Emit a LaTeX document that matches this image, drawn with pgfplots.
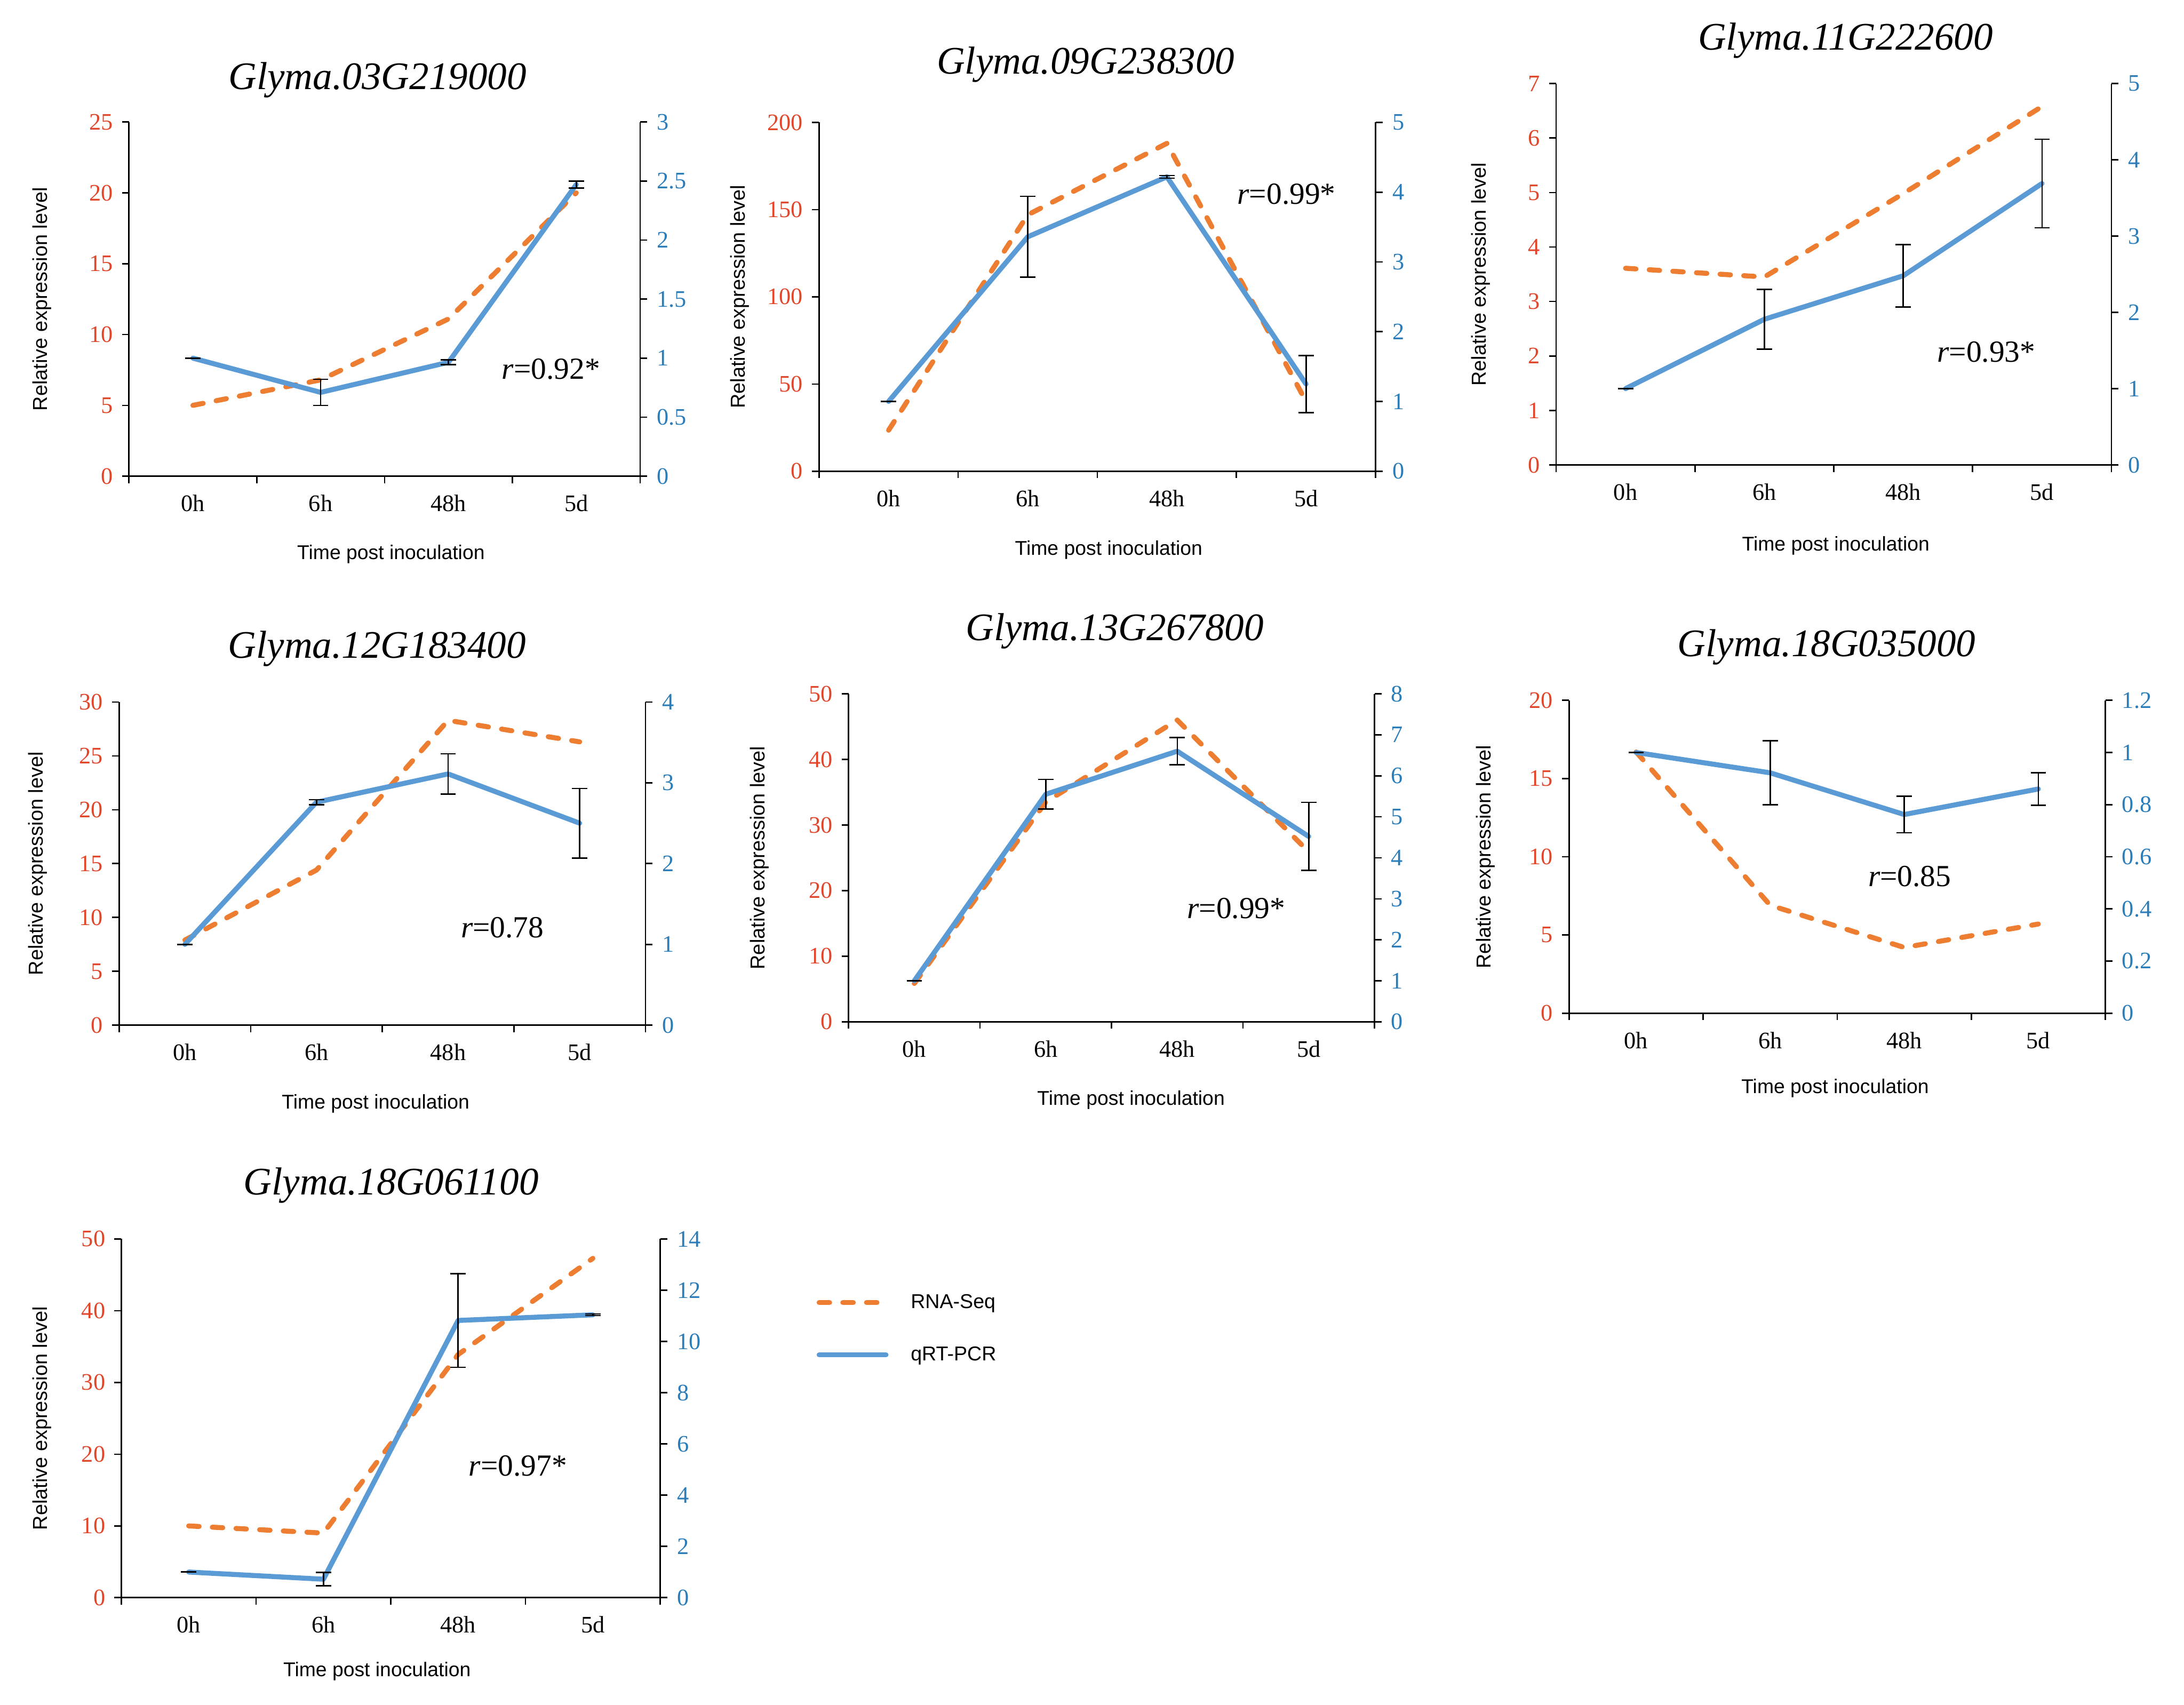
\documentclass[border=0pt]{standalone}
\usepackage{fontspec}
\setmainfont{Liberation Serif}
\newfontfamily\arial{Liberation Sans}
\usepackage{pgfplots}
\pgfplotsset{compat=1.18}
\definecolor{orangec}{HTML}{ED7D31}
\definecolor{bluec}{HTML}{5B9BD5}
\definecolor{leftc}{HTML}{E0462A}
\definecolor{rightc}{HTML}{2A7DB8}
\pgfplotsset{
  common/.style={scale only axis, xmin=0, xmax=4, ymin=0, clip=false,
    axis line style={black, line width=1pt},
    every tick/.style={black, line width=1pt},
    tick align=outside, major tick length=5pt, minor tick length=5pt,
    /pgf/number format/assume math mode=true,
    ticklabel style={font=\fontsize{17}{17}\selectfont}},
  leftax/.style={common, axis x line*=bottom, axis y line*=left,
    xtick={0.5,1.5,2.5,3.5}, xticklabels={0h,6h,48h,5d},
    minor xtick={0,1,2,3,4}, major x tick style={draw=none},
    xticklabel style={font=\fontsize{17}{17}\selectfont, yshift=-5pt},
    yticklabel style={text=leftc, xshift=-3pt}},
  rightax/.style={common, axis x line=none, axis y line*=right, xtick=\empty,
    yticklabel style={text=rightc, xshift=3.5pt}},
  rna/.style={color=orangec, line width=3.6pt, dash pattern=on 7.5pt off 9.5pt, line cap=round, line join=round, mark=none},
  qrt/.style={color=bluec, line width=3.6pt, line cap=round, line join=round, mark=none},
  errb/.style={error bars/.cd, y dir=both, y explicit,
    error bar style={line width=1pt, black, solid},
    error mark options={black, line width=1pt, mark size=5.5pt, solid, rotate=90}},
}
\newcommand\ttl[3]{\node[font=\fontsize{28}{28}\selectfont\itshape] at (#1pt,#2pt) {#3};}
\newcommand\xlab[2]{\node[font=\arial\fontsize{14.3}{14.3}\selectfont] at (#1pt,#2pt) {Time post inoculation};}
\newcommand\ylab[2]{\node[font=\arial\fontsize{14.5}{14.5}\selectfont, rotate=90] at (#1pt,#2pt) {Relative expression level};}
\newcommand\rr[3]{\node[font=\fontsize{22}{22}\selectfont] at (#1pt,#2pt) {{\itshape r}=#3};}
\begin{document}
\begin{tikzpicture}
\useasboundingbox (0,0) rectangle (1568pt,1223.7pt);
% ---------- Panel 1
\begin{axis}[leftax, at={(92.6pt,881.8pt)}, width=367pt, height=254.3pt, ymax=25, ytick={0,5,10,15,20,25}]
\addplot[rna] coordinates {(0.5,5.0) (1.5,6.8) (2.5,11.1) (3.5,20.0)};
\end{axis}
\begin{axis}[rightax, at={(92.6pt,881.8pt)}, width=367pt, height=254.3pt, ymax=3, ytick={0,0.5,1,1.5,2,2.5,3}]
\addplot[qrt, errb] coordinates {(0.5,1.0) +- (0,0) (1.5,0.71) +- (0,0.11) (2.5,0.965) +- (0,0.02) (3.5,2.47) +- (0,0.03)};
\end{axis}
\ttl{271}{1166.1}{Glyma.03G219000}
\xlab{280.7}{825.7}
\ylab{30.3}{1008.95}
\rr{395.6}{958.7}{0.92*}
% ---------- Panel 2
\begin{axis}[leftax, at={(588pt,885.4pt)}, width=399.6pt, height=250.4pt, ymax=200, ytick={0,50,100,150,200}]
\addplot[rna] coordinates {(0.5,23.5) (1.5,147) (2.5,188) (3.5,40)};
\end{axis}
\begin{axis}[rightax, at={(588pt,885.4pt)}, width=399.6pt, height=250.4pt, ymax=5, ytick={0,1,2,3,4,5}]
\addplot[qrt, errb] coordinates {(0.5,1.0) +- (0,0) (1.5,3.36) +- (0,0.58) (2.5,4.22) +- (0,0.02) (3.5,1.25) +- (0,0.41)};
\end{axis}
\ttl{779.5}{1177.5}{Glyma.09G238300}
\xlab{796}{828.9}
\ylab{531}{1010.6}
\rr{923.6}{1084.3}{0.99*}
% ---------- Panel 3
\begin{axis}[leftax, at={(1117.2pt,889.9pt)}, width=398.7pt, height=273.8pt, ymax=7, ytick={0,1,2,3,4,5,6,7}]
\addplot[rna] coordinates {(0.5,3.61) (1.5,3.45) (2.5,4.98) (3.5,6.58)};
\end{axis}
\begin{axis}[rightax, at={(1117.2pt,889.9pt)}, width=398.7pt, height=273.8pt, ymax=5, ytick={0,1,2,3,4,5}]
\addplot[qrt, errb] coordinates {(0.5,1.0) +- (0,0) (1.5,1.91) +- (0,0.39) (2.5,2.48) +- (0,0.41) (3.5,3.69) +- (0,0.58)};
\end{axis}
\ttl{1325}{1194.6}{Glyma.11G222600}
\xlab{1318}{831.8}
\ylab{1063}{1026.8}
\rr{1426}{970.8}{0.93*}
% ---------- Panel 4
\begin{axis}[leftax, at={(85.5pt,487.7pt)}, width=377.9pt, height=232pt, ymax=30, ytick={0,5,10,15,20,25,30}]
\addplot[rna] coordinates {(0.5,7.9) (1.5,14.4) (2.5,28.3) (3.5,26.3)};
\end{axis}
\begin{axis}[rightax, at={(85.5pt,487.7pt)}, width=377.9pt, height=232pt, ymax=4, ytick={0,1,2,3,4}]
\addplot[qrt, errb] coordinates {(0.5,1.0) +- (0,0) (1.5,2.76) +- (0,0.03) (2.5,3.11) +- (0,0.25) (3.5,2.5) +- (0,0.43)};
\end{axis}
\ttl{270.7}{757.8}{Glyma.12G183400}
\xlab{269.7}{431.3}
\ylab{27.1}{603.7}
\rr{360.7}{557.7}{0.78}
% ---------- Panel 5
\begin{axis}[leftax, at={(609.2pt,490.1pt)}, width=377.6pt, height=235.5pt, ymax=50, ytick={0,10,20,30,40,50}]
\addplot[rna] coordinates {(0.5,5.84) (1.5,33.5) (2.5,46.0) (3.5,25.9)};
\end{axis}
\begin{axis}[rightax, at={(609.2pt,490.1pt)}, width=377.6pt, height=235.5pt, ymax=8, ytick={0,1,2,3,4,5,6,7,8}]
\addplot[qrt, errb] coordinates {(0.5,1.0) +- (0,0) (1.5,5.55) +- (0,0.36) (2.5,6.6) +- (0,0.33) (3.5,4.52) +- (0,0.83)};
\end{axis}
\ttl{800.3}{770.5}{Glyma.13G267800}
\xlab{812}{434.2}
\ylab{545.2}{607.85}
\rr{887.5}{571.7}{0.99*}
% ---------- Panel 6
\begin{axis}[leftax, at={(1126.5pt,496.3pt)}, width=385pt, height=224.6pt, ymax=20, ytick={0,5,10,15,20}]
\addplot[rna] coordinates {(0.5,16.7) (1.5,6.9) (2.5,4.2) (3.5,5.7)};
\end{axis}
\begin{axis}[rightax, at={(1126.5pt,496.3pt)}, width=385pt, height=224.6pt, ymax=1.2, ytick={0,0.2,0.4,0.6,0.8,1,1.2}]
\addplot[qrt, errb] coordinates {(0.5,1.0) +- (0,0) (1.5,0.922) +- (0,0.123) (2.5,0.762) +- (0,0.07) (3.5,0.86) +- (0,0.062)};
\end{axis}
\ttl{1311.4}{759}{Glyma.18G035000}
\xlab{1317.5}{442.3}
\ylab{1066.6}{608.6}
\rr{1371}{594.5}{0.85}
% ---------- Panel 7
\begin{axis}[leftax, at={(87.1pt,76.7pt)}, width=386.9pt, height=257.5pt, ymax=50, ytick={0,10,20,30,40,50}]
\addplot[rna] coordinates {(0.5,10.0) (1.5,9.0) (2.5,33.9) (3.5,47.3)};
\end{axis}
\begin{axis}[rightax, at={(87.1pt,76.7pt)}, width=386.9pt, height=257.5pt, ymax=14, ytick={0,2,4,6,8,10,12,14},
  legend style={draw=none, fill=none, at={(axis description cs:1.282,0.7497)}, anchor=west,
    font=\arial\fontsize{14.4}{14.4}\selectfont, row sep=22pt,
    /tikz/every odd column/.append style={column sep=14pt}},
  legend cell align=left,
  legend image code/.code={\draw[#1] (0pt,0pt) -- (48pt,0pt);}]
\addplot[qrt, forget plot, errb] coordinates {(0.5,1.0) +- (0,0) (1.5,0.72) +- (0,0.26) (2.5,10.82) +- (0,1.83) (3.5,11.04) +- (0,0.03)};
\addlegendimage{rna}\addlegendentry{RNA-Seq}
\addlegendimage{qrt}\addlegendentry{qRT-PCR}
\end{axis}
\ttl{280.8}{372.7}{Glyma.18G061100}
\xlab{270.7}{23.7}
\ylab{30.3}{205.45}
\rr{371.8}{171.3}{0.97*}
\end{tikzpicture}
\end{document}
